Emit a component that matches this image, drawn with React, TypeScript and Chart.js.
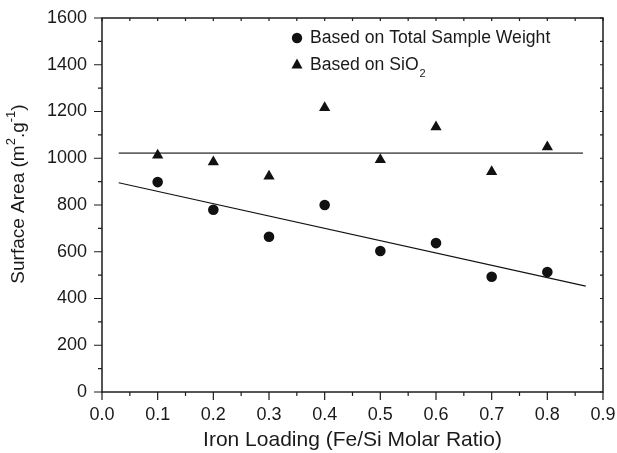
import React, { useEffect, useRef } from 'react';
import { Chart, registerables } from 'chart.js';

Chart.register(...registerables);

const FONT = '"Liberation Sans", Arial, Helvetica, sans-serif';

const ironLoading = [0.1, 0.2, 0.3, 0.4, 0.5, 0.6, 0.7, 0.8];
const totalWeightArea = [898, 780, 664, 800, 603, 637, 493, 513];
const sio2Area = [1013, 984, 923, 1216, 994, 1134, 942, 1048];
const fitLineX = [0.03, 0.869];
const fitLineY = [895, 453];
const meanLineX = [0.03, 0.864];
const meanLineY = [1022, 1022];
const legendTotal = 'Based on Total Sample Weight';
const legendSiO2 = 'Based on SiO';
const legendSiO2Sub = '2';
const xTitle = 'Iron Loading (Fe/Si Molar Ratio)';
const yTitleParts = [
  { t: 'Surface Area (m', sup: false },
  { t: '2', sup: true },
  { t: '.g', sup: false },
  { t: '-1', sup: true },
  { t: ')', sup: false },
];

const decorPlugin = {
  id: 'decor',
  afterDraw(chart: any) {
    const ctx = chart.ctx;
    const { left, right, top, bottom } = chart.chartArea;
    const xs = chart.scales.x;
    const ys = chart.scales.y;
    ctx.save();
    ctx.strokeStyle = '#1c1c1c';
    ctx.lineWidth = 1.5;
    ctx.strokeRect(left, top, right - left, bottom - top);
    ctx.lineWidth = 1.2;
    ctx.beginPath();
    for (let i = 0; i <= 18; i++) {
      const v = i * 0.05;
      const px = xs.getPixelForValue(v);
      const len = i % 2 === 0 ? 8 : 4;
      ctx.moveTo(px, bottom);
      ctx.lineTo(px, bottom + len);
      ctx.moveTo(px, top);
      ctx.lineTo(px, top + 3);
    }
    for (let i = 0; i <= 16; i++) {
      const v = i * 100;
      const py = ys.getPixelForValue(v);
      const len = i % 2 === 0 ? 8 : 4;
      ctx.moveTo(left, py);
      ctx.lineTo(left - len, py);
      ctx.moveTo(right, py);
      ctx.lineTo(right - 3, py);
    }
    ctx.stroke();

    // legend
    ctx.fillStyle = '#111';
    ctx.beginPath();
    ctx.arc(297, 38, 5.2, 0, Math.PI * 2);
    ctx.fill();
    ctx.beginPath();
    ctx.moveTo(297, 58.5);
    ctx.lineTo(302.5, 68.5);
    ctx.lineTo(291.5, 68.5);
    ctx.closePath();
    ctx.fill();
    ctx.fillStyle = '#1a1a1a';
    ctx.font = `17.6px ${FONT}`;
    ctx.textBaseline = 'middle';
    ctx.textAlign = 'left';
    ctx.fillText(legendTotal, 310, 38);
    ctx.fillText(legendSiO2, 310, 65);
    const w = ctx.measureText(legendSiO2).width;
    ctx.font = `11px ${FONT}`;
    ctx.fillText(legendSiO2Sub, 310 + w + 1, 74);

    // y title
    ctx.translate(19, 194);
    ctx.rotate(-Math.PI / 2);
    const big = `19px ${FONT}`;
    const small = `13px ${FONT}`;
    let total = 0;
    for (const p of yTitleParts) {
      ctx.font = p.sup ? small : big;
      total += ctx.measureText(p.t).width;
    }
    let x = -total / 2;
    for (const p of yTitleParts) {
      ctx.font = p.sup ? small : big;
      ctx.fillText(p.t, x, p.sup ? -8 : 0);
      x += ctx.measureText(p.t).width;
    }
    ctx.restore();
  },
};

export default function App() {
  const ref = useRef<HTMLCanvasElement>(null);
  useEffect(() => {
    document.body.style.margin = '0';
    const canvas = ref.current;
    if (!canvas) return;
    const chart = new Chart(canvas, {
      type: 'scatter',
      data: {
        datasets: [
          {
            label: legendTotal,
            data: ironLoading.map((x, i) => ({ x, y: totalWeightArea[i] })),
            pointStyle: 'circle',
            pointRadius: 5.3,
            backgroundColor: '#111',
            borderColor: '#111',
            borderWidth: 0,
          },
          {
            label: legendSiO2 + legendSiO2Sub,
            data: ironLoading.map((x, i) => ({ x, y: sio2Area[i] })),
            pointStyle: 'triangle',
            pointRadius: 6.5,
            backgroundColor: '#111',
            borderColor: '#111',
            borderWidth: 0,
          },
          {
            label: 'fit',
            data: fitLineX.map((x, i) => ({ x, y: fitLineY[i] })),
            showLine: true,
            pointRadius: 0,
            borderColor: '#111',
            borderWidth: 1.1,
          },
          {
            label: 'mean',
            data: meanLineX.map((x, i) => ({ x, y: meanLineY[i] })),
            showLine: true,
            pointRadius: 0,
            borderColor: '#666',
            borderWidth: 1.6,
          },
        ],
      },
      options: {
        animation: false,
        responsive: false,
        layout: { padding: { top: 18, right: 14, left: 0, bottom: 0 } },
        plugins: { legend: { display: false }, tooltip: { enabled: false } },
        scales: {
          x: {
            type: 'linear',
            min: 0,
            max: 0.9,
            grid: { display: false, drawTicks: false },
            border: { display: false },
            ticks: {
              stepSize: 0.1,
              padding: 12,
              color: '#1a1a1a',
              font: { family: FONT, size: 18 },
              callback: (v: any) => Number(v).toFixed(1),
            },
            title: {
              display: true,
              text: xTitle,
              color: '#1a1a1a',
              font: { family: FONT, size: 21, lineHeight: 1.2 },
              padding: { top: 0, bottom: 0 },
            },
            afterFit: (s: any) => {
              s.height = 61;
              s.paddingLeft = 0;
              s.paddingRight = 0;
            },
          },
          y: {
            type: 'linear',
            min: 0,
            max: 1600,
            grid: { display: false, drawTicks: false },
            border: { display: false },
            ticks: {
              stepSize: 200,
              padding: 15,
              color: '#1a1a1a',
              font: { family: FONT, size: 18 },
              callback: (v: any) => String(v),
            },
            afterFit: (s: any) => {
              s.width = 102;
              s.paddingTop = 0;
              s.paddingBottom = 0;
            },
          },
        },
      },
      plugins: [decorPlugin],
    });
    return () => chart.destroy();
  }, []);
  return (
    <div style={{ width: 617, height: 453 }}>
      <canvas ref={ref} width={617} height={453} />
    </div>
  );
}
